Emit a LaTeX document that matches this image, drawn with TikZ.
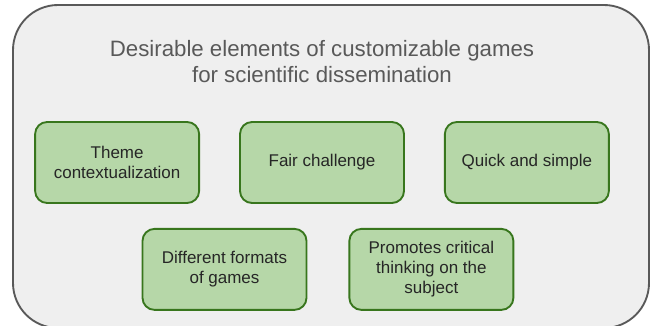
\documentclass[tikz,border=0pt]{standalone}
\usepackage{fontspec}
\setmainfont{Liberation Sans}
\usetikzlibrary{positioning}
\definecolor{panelgray}{HTML}{EFEFEF}
\definecolor{panelline}{HTML}{595959}
\definecolor{itemgreen}{HTML}{B6D7A8}
\definecolor{itemline}{HTML}{38761D}
\tikzset{
    element/.style={draw=itemline, fill=itemgreen, line width=1.6pt, rounded corners=0.36cm,
        minimum width=4.92cm, minimum height=2.43cm, align=center, text=black!85,
        font=\fontsize{14.5}{17}\selectfont},
}

\begin{document}
\begin{tikzpicture}[node distance=1.17cm]
    \useasboundingbox (0,0) rectangle (19.53,-9.75);
    \draw [panelline, fill=panelgray, line width=1.6pt, rounded corners=1.35cm] (0.39,-0.15) rectangle (19.47,-9.84);
    \node [align=center, text=panelline, font=\fontsize{19}{22.2}\selectfont] (title) at (9.66,-1.86) {Desirable elements of customizable games\\for scientific dissemination};
    \node [element] (fair) at (9.66,-4.875) {Fair challenge};
    \node [element, left=of fair] (theme) {Theme\\contextualization};
    \node [element, right=of fair] (quick) {Quick and simple};
    \node [element, below=0.72cm of fair, xshift=-2.925cm] (formats) {Different formats\\of games};
    \node [element, right=1.23cm of formats] (critical) {Promotes critical\\thinking on the\\subject};
\end{tikzpicture}
\end{document}
